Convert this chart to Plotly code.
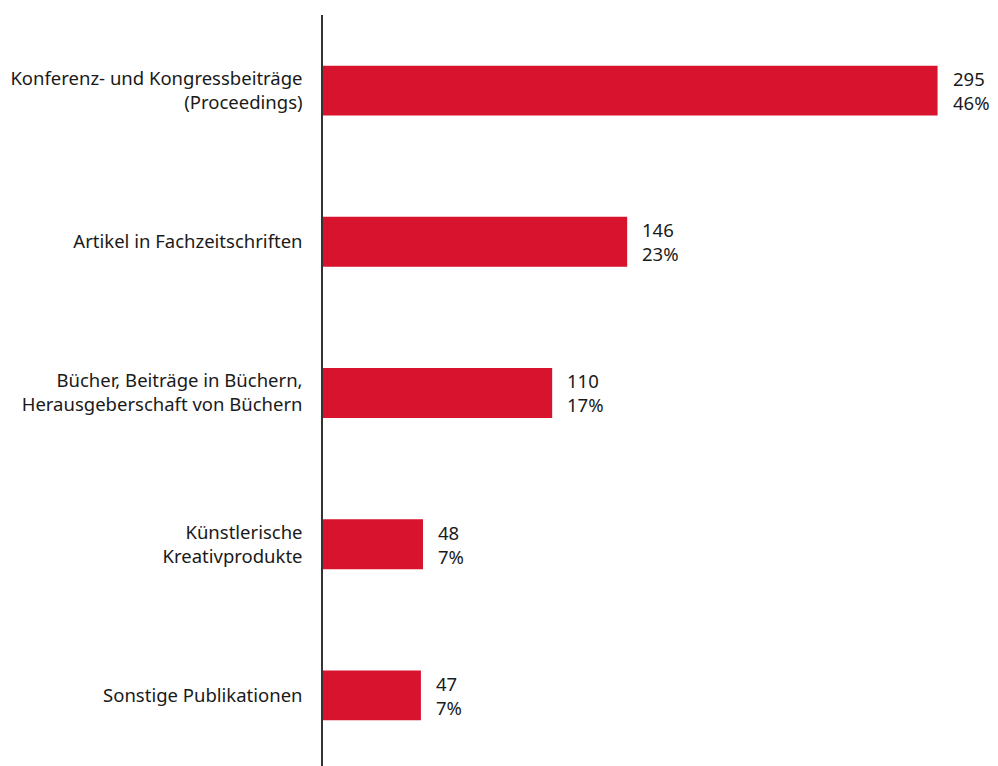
import plotly.graph_objects as go

categories = [
    "Konferenz- und Kongressbeiträge<br>(Proceedings)",
    "Artikel in Fachzeitschriften",
    "Bücher, Beiträge in Büchern,<br>Herausgeberschaft von Büchern",
    "Künstlerische<br>Kreativprodukte",
    "Sonstige Publikationen",
]
values = [295, 146, 110, 48, 47]
percents = ["46%", "23%", "17%", "7%", "7%"]

BAR_COLOR = "#d7132d"
TEXT_COLOR = "#1a1a1a"
FONT = "Noto Sans"
FSIZE = 18.5

fig = go.Figure(
    go.Bar(
        y=categories,
        x=values,
        orientation="h",
        marker=dict(color=BAR_COLOR, line=dict(width=0)),
        width=0.33,
        hoverinfo="skip",
    )
)

for cat, v, p in zip(categories, values, percents):
    fig.add_annotation(
        x=v, y=cat, xref="x", yref="y",
        text=f"{v}<br>{p}",
        showarrow=False, xanchor="left", yanchor="middle", align="left",
        xshift=13,
        font=dict(family=FONT, size=FSIZE, color=TEXT_COLOR),
    )

fig.update_layout(
    width=990, height=758,
    margin=dict(l=315, r=0, t=7, b=0),
    paper_bgcolor="white", plot_bgcolor="white",
    showlegend=False,
    font=dict(family=FONT, size=FSIZE, color=TEXT_COLOR),
    xaxis=dict(range=[0, 324.0], visible=False, showgrid=False, zeroline=False),
    yaxis=dict(
        type="category",
        range=[4.467, -0.5],
        showgrid=False, zeroline=False,
        showline=True, linecolor="#333333", linewidth=1.5,
        ticks="", ticklabelstandoff=15,
        tickfont=dict(family=FONT, size=FSIZE, color=TEXT_COLOR),
    ),
)

fig.write_html("out.html")
